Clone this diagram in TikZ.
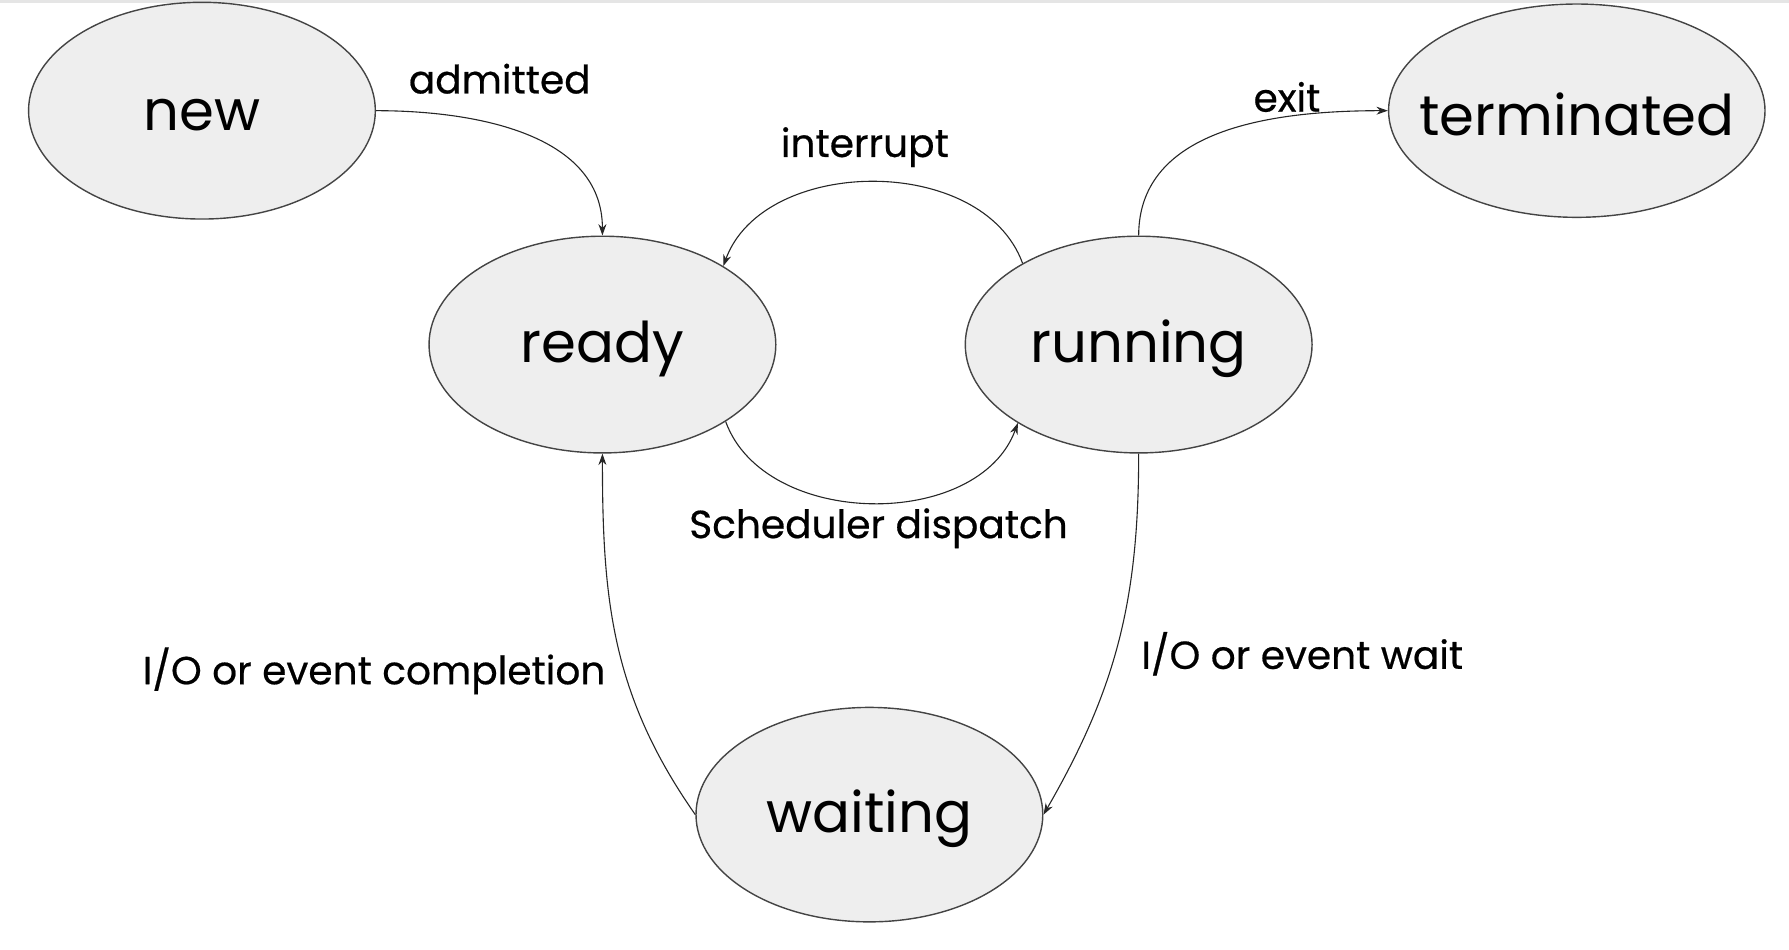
\documentclass[tikz,border=0pt]{standalone}
\usepackage{fontspec}
\setmainfont{Poppins}
\newfontfamily\labelfont{Poppins}[FakeBold=0.5]
\usetikzlibrary{shapes.geometric,arrows.meta}
\definecolor{statefill}{HTML}{EEEEEE}
\definecolor{stateline}{HTML}{444444}
\tikzset{
  procstate/.style={ellipse,draw=stateline,fill=statefill,line width=0.7pt,
    minimum width=6.08cm,minimum height=3.8cm,inner sep=0pt,
    label={[font=\fontsize{28}{30}\selectfont,yshift=-0.07cm]center:#1}},
  trans/.style={-{Stealth[length=0.2cm,width=0.14cm]},line width=0.55pt,draw=black!85},
  tlabel/.style={font=\labelfont\fontsize{19.5}{21}\selectfont,inner sep=0pt}
}
\begin{document}
\begin{tikzpicture}[x=0.02cm,y=-0.02cm]
\useasboundingbox (0,0) rectangle (1568,832);
%top strip
\fill[gray!20] (0,0) rectangle (1568,3);
%states
\node[procstate=new] (new) at (177,97) {};
\node[procstate=ready] (ready) at (528,302) {};
\node[procstate=running] (running) at (998,302) {};
\node[procstate=terminated,minimum width=6.6cm,minimum height=3.74cm] (term) at (1382,97) {};
\node[procstate=waiting,minimum height=3.76cm] (waiting) at (762,714) {};
%transitions
\draw[trans] (new.east) to[out=0,in=90] (ready.north);
\draw[trans] (running.145) to[out=110,in=70] (ready.33);
\draw[trans] (ready.-32) to[out=-70,in=-110] (running.213);
\draw[trans] (running.north) to[out=90,in=180] (term.west);
\draw[trans] (running.south) to[out=-90,in=60] (waiting.east);
\draw[trans] (waiting.west) to[out=125,in=-90] (ready.south);
%labels
\node[tlabel] (ladmit) at (438,69) {admitted};
\node[tlabel] (lintr) at (758,129) {interrupt};
\node[tlabel] (ldisp) at (770,463) {Scheduler dispatch};
\node[tlabel] (lexit) at (1128,85) {exit};
\node[tlabel,anchor=west] (lwait) at (1000,573) {I/O or event wait};
\node[tlabel,anchor=east] (ldone) at (531,588) {I/O or event completion};
\end{tikzpicture}
\end{document}
